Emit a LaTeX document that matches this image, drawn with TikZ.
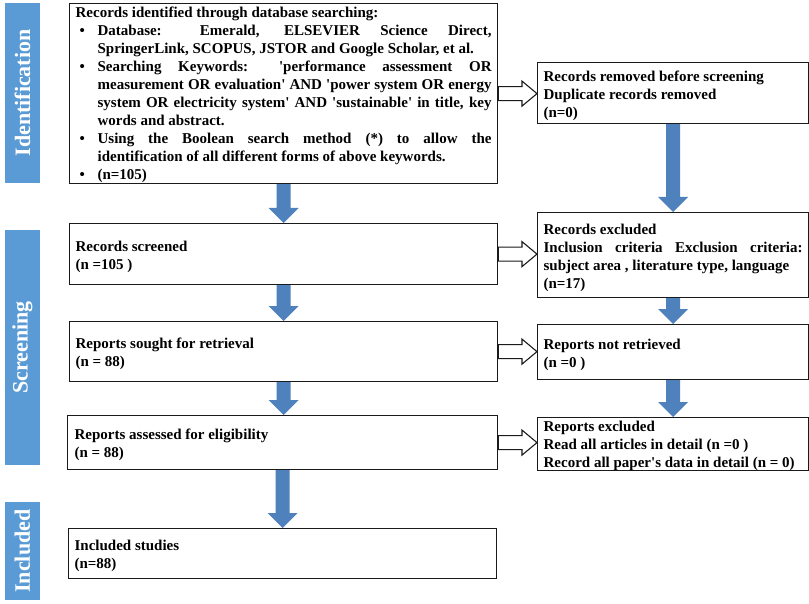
\documentclass[tikz,border=0pt]{standalone}
\usepackage{fontspec}
\setmainfont{Liberation Serif}
\usetikzlibrary{calc}
\definecolor{sideblue}{HTML}{5B9BD5}
\definecolor{arrblue}{HTML}{4F81BD}
\definecolor{boxline}{HTML}{1A1A1A}
\setlength\parindent{0pt}
\hbadness=10000
\newcommand\sq{\textquotesingle}
% bullet line (justified / last)
\newcommand\bj[1]{\leavevmode\hbox to 22pt{\hskip4pt\textbullet\hfil}\makebox[394pt][s]{#1}}
\newcommand\bl[1]{\leavevmode\hbox to 22pt{\hskip4pt\textbullet\hfil}\makebox[394pt][l]{#1}}
% continuation line (justified / last)
\newcommand\cj[1]{\leavevmode\hspace*{22pt}\makebox[394pt][s]{#1}}
\newcommand\cl[1]{\leavevmode\hspace*{22pt}\makebox[394pt][l]{#1}}
\newcommand\bda[2]{\fill[arrblue] let \p1=(#1.south), \p2=(#2.north) in
  (\x1-7pt,\y1) -- (\x1-7pt,\y2+15pt) -- (\x1-15pt,\y2+15pt) -- (\x1,\y2)
  -- (\x1+15pt,\y2+15pt) -- (\x1+7pt,\y2+15pt) -- (\x1+7pt,\y1) -- cycle;}
\newcommand\wra[2]{\draw[wharr] let \p1=(#1.east), \p2=(#2.west) in
  (\x1,\y1+7pt) -- (\x2-15pt,\y1+7pt) -- (\x2-15pt,\y1+12.5pt) -- (\x2,\y1)
  -- (\x2-15pt,\y1-12.5pt) -- (\x2-15pt,\y1-7pt) -- (\x1,\y1-7pt) -- cycle;}
\begin{document}
\begin{tikzpicture}[x=1pt,y=-1pt,
  box/.style={draw=boxline, line width=1.2pt, fill=white, anchor=north west,
    inner xsep=6pt, inner ysep=0pt, align=justify,
    font=\bfseries\fontsize{15}{18}\selectfont},
  lbox/.style={box, minimum width=428pt, text width=416pt},
  rbox/.style={box, minimum width=271pt, text width=259pt},
  sidebar/.style={fill=sideblue, rotate=90, minimum height=35pt, inner sep=0pt,
    text=white, font=\bfseries\fontsize{22}{26}\selectfont},
  wharr/.style={draw=boxline, fill=white, line width=1.1pt, line join=miter}]
\useasboundingbox (0,0) rectangle (809,604);
\fill[white] (0,0) rectangle (809,604);

% side bars
\node[sidebar, minimum width=180pt] (sid) at (22.5,93) {Identification};
\node[sidebar, minimum width=235pt] (sscr) at (22.5,347.5) {Screening};
\node[sidebar, minimum width=98pt] (sinc) at (22.5,551) {Included};

% left column
\node[lbox, minimum height=180pt] (b1) at (69,3) {\rule{0pt}{13pt}Records identified through database searching:\par
\bj{Database: Emerald, ELSEVIER Science Direct,}\par
\cl{SpringerLink, SCOPUS, JSTOR and Google Scholar, et al.}\par
\bj{Searching Keywords: \sq performance assessment OR}\par
\cj{measurement OR evaluation\sq{} AND \sq power system OR energy}\par
\cj{system OR electricity system\sq{} AND \sq sustainable\sq{} in title, key}\par
\cl{words and abstract.}\par
\bj{Using the Boolean search method (*) to allow the}\par
\cl{identification of all different forms of above keywords.}\par
\bl{(n=105)}};
\node[lbox, minimum height=61pt] (b2) at (69,223) {\rule{0pt}{15pt}Records screened\par (n =105 )};
\node[lbox, minimum height=60pt] (b3) at (69,321) {\rule{0pt}{15pt}Reports sought for retrieval\par (n = 88)};
\node[lbox, minimum width=430pt, minimum height=54pt] (b4) at (67,415) {\rule{0pt}{15pt}Reports assessed for eligibility\par (n = 88)};
\node[lbox, minimum height=50pt] (b5) at (68,528) {\rule{0pt}{15pt}Included studies\par (n=88)};

% right column
\node[rbox, minimum height=61pt] (r1) at (537,62) {\rule{0pt}{15pt}Records removed before screening\par Duplicate records removed\par (n=0)};
\node[rbox, minimum height=85pt] (r2) at (537,212) {\rule{0pt}{15pt}Records excluded\par \makebox[259pt][s]{Inclusion criteria Exclusion criteria:}\par \mbox{subject area , literature type, language}\par (n=17)};
\node[rbox, minimum height=55pt] (r3) at (537,324) {\rule{0pt}{15pt}Reports not retrieved\par (n =0 )};
\node[rbox, minimum height=51pt] (r4) at (537,417) {\rule{0pt}{14pt}Reports excluded\par \mbox{Read all articles in detail (n =0 )}\par \mbox{Record all paper\sq s data in detail (n = 0)}};

% blue down arrows
\bda{b1}{b2}
\bda{b2}{b3}
\bda{b3}{b4}
\bda{b4}{b5}
\bda{r1}{r2}
\bda{r2}{r3}
\bda{r3}{r4}

% white right arrows
\wra{b1}{r1}
\wra{b2}{r2}
\wra{b3}{r3}
\wra{b4}{r4}
\end{tikzpicture}
\end{document}
